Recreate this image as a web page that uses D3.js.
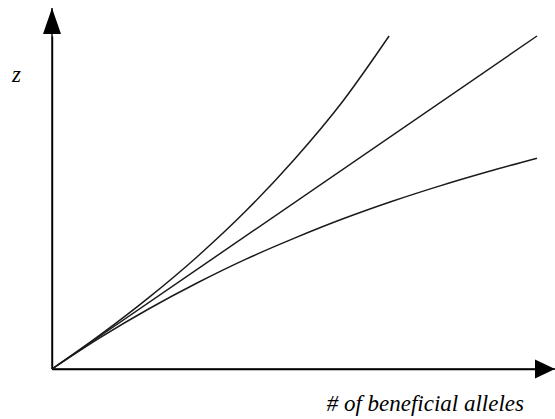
<!DOCTYPE html>
<html>
<head>
<meta charset="utf-8">
<script src="https://cdn.jsdelivr.net/npm/d3@7"></script>
<style>
html,body{margin:0;padding:0;background:#fff;}
svg{display:block;}
.lbl{font-family:"Liberation Serif","Times New Roman",Times,serif;font-style:italic;fill:#000;}
</style>
</head>
<body>
<svg id="chart" width="555" height="419"></svg>
<script>
// Data (x = # of beneficial alleles, y = z, arbitrary units)
const linearX = [0, 10];
const linearY = [0, 10];
const convexX = [0, 1, 2, 3, 4, 5, 6, 6.95];
const convexY = [0, 1.03, 2.15, 3.38, 4.75, 6.3, 8.05, 10];
const concaveX = [0, 1, 2, 3, 4, 5, 6, 7, 8, 9, 10];
const concaveY = [0, 0.95, 1.81, 2.59, 3.3, 3.93, 4.51, 5.03, 5.5, 5.93, 6.33];
const xLabel = "# of beneficial alleles";
const yLabel = "z";

const svg = d3.select("#chart");
const x = d3.scaleLinear().domain([0, 10]).range([52, 537]);
const y = d3.scaleLinear().domain([0, 10]).range([369, 36]);

const defs = svg.append("defs");
defs.append("marker")
  .attr("id", "arrow")
  .attr("viewBox", "0 0 20 20")
  .attr("refX", 20).attr("refY", 10)
  .attr("markerUnits", "userSpaceOnUse")
  .attr("markerWidth", 20).attr("markerHeight", 20)
  .attr("orient", "auto")
  .append("path")
  .attr("d", "M0,0.5 L20,10 L0,19.5 Z")
  .attr("fill", "#000");

defs.append("marker")
  .attr("id", "arrowY")
  .attr("viewBox", "0 0 26 18")
  .attr("refX", 26).attr("refY", 9)
  .attr("markerUnits", "userSpaceOnUse")
  .attr("markerWidth", 26).attr("markerHeight", 18)
  .attr("orient", "auto")
  .append("path")
  .attr("d", "M0,0 L26,9 L0,18 Z")
  .attr("fill", "#000");

const xAxis = d3.axisBottom(x).tickValues([]).tickSizeOuter(0);
const yAxis = d3.axisLeft(y).tickValues([]).tickSizeOuter(0);

svg.append("line")
  .attr("x1", x(0)).attr("y1", y(0))
  .attr("x2", 555).attr("y2", y(0))
  .attr("stroke", "#000").attr("stroke-width", 1.4)
  .attr("marker-end", "url(#arrow)");
svg.append("line")
  .attr("x1", x(0)).attr("y1", y(0))
  .attr("x2", x(0)).attr("y2", 8)
  .attr("stroke", "#000").attr("stroke-width", 1.4)
  .attr("marker-end", "url(#arrowY)");

svg.append("g").attr("transform", `translate(0,${y(0)})`).call(xAxis)
  .select(".domain").attr("stroke", "#000").attr("stroke-width", 1.4);
svg.append("g").attr("transform", `translate(${x(0)},0)`).call(yAxis)
  .select(".domain").attr("stroke", "#000").attr("stroke-width", 1.4);

const line = d3.line().x(d => x(d[0])).y(d => y(d[1])).curve(d3.curveMonotoneX);
const series = [
  d3.zip(linearX, linearY),
  d3.zip(convexX, convexY),
  d3.zip(concaveX, concaveY)
];
svg.append("g").selectAll("path").data(series).join("path")
  .attr("d", line)
  .attr("fill", "none")
  .attr("stroke", "#1a1a1a")
  .attr("stroke-width", 1.5);

svg.append("text")
  .attr("class", "lbl")
  .attr("x", 12).attr("y", 82)
  .style("font-size", "23px")
  .text(yLabel);

svg.append("text")
  .attr("class", "lbl")
  .attr("x", 524).attr("y", 411)
  .attr("text-anchor", "end")
  .style("font-size", "23px")
  .text(xLabel);
</script>
</body>
</html>
